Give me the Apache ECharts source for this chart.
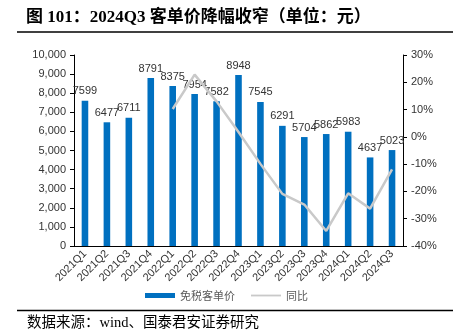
<!DOCTYPE html>
<html><head><meta charset="utf-8">
<script src="https://cdn.jsdelivr.net/npm/echarts@6/dist/echarts.min.js"></script>
<style>html,body{margin:0;padding:0;background:#fff}#c{width:453px;height:333px}</style>
</head><body><div id="c"></div>
<script>
const categories = ['2021Q1','2021Q2','2021Q3','2021Q4','2022Q1','2022Q2','2022Q3','2022Q4','2023Q1','2023Q2','2023Q3','2023Q4','2024Q1','2024Q2','2024Q3'];
const unitPrice = [7599,6477,6711,8791,8375,7954,7582,8948,7545,6291,5704,5862,5983,4637,5023];
const yoy = [null,null,null,null,10.2,22.8,13.0,1.8,-9.9,-20.9,-24.8,-34.5,-20.7,-26.3,-11.9];
const leftTicks = {min:0,max:10000,interval:1000};
const rightTicks = {min:-40,max:30,interval:10};
const titleText = '图 101：2024Q3 客单价降幅收窄（单位：元）';
const sourceText = '数据来源：wind、国泰君安证券研究';

const chart = echarts.init(document.getElementById('c'), null, {renderer:'canvas'});
const axisFont = {fontFamily:'Liberation Sans, Arial, sans-serif', fontSize:11, color:'#333'};
chart.setOption({
  animation:false,
  grid:{left:74,right:50,top:55,bottom:87},
  graphic:[
    {type:'text',left:26,top:9,style:{text:titleText,font:'bold 17px "Liberation Serif", "Noto Sans CJK SC", serif',fill:'#000'}},
    {type:'line',shape:{x1:17,y1:32,x2:453,y2:32},style:{stroke:'#000',lineWidth:1.6}},
    {type:'line',shape:{x1:17,y1:310.5,x2:453,y2:310.5},style:{stroke:'#000',lineWidth:1.6}},
    {type:'text',left:27,top:316,style:{text:sourceText,font:'14.5px "Liberation Serif", "Noto Sans CJK SC", serif',fill:'#000'}}
  ],
  legend:{
    bottom:27, left:'center', itemGap:16, itemWidth:30, itemHeight:5,
    textStyle:{fontSize:11,color:'#595959',fontFamily:'"Noto Sans CJK SC", sans-serif'},
    data:[{name:'免税客单价',icon:'rect'},
          {name:'同比',icon:'path://M0,0 L0,0 M0,1.6 L30,1.6 L30,3.4 L0,3.4 Z M30,5 L30,5',itemStyle:{color:'#C9C9C9'}}]
  },
  xAxis:{
    type:'category', data:categories,
    axisLine:{lineStyle:{color:'#000',width:1}},
    axisTick:{show:false},
    axisLabel:Object.assign({rotate:45,interval:0,margin:6},axisFont)
  },
  yAxis:[
    {type:'value',min:leftTicks.min,max:leftTicks.max,interval:leftTicks.interval,
     axisLine:{show:true,lineStyle:{color:'#000'}},axisTick:{show:true,length:4,lineStyle:{color:'#000'}},
     splitLine:{show:false},
     axisLabel:Object.assign({formatter:v=>v.toLocaleString('en-US'),margin:8},axisFont)},
    {type:'value',min:rightTicks.min,max:rightTicks.max,interval:rightTicks.interval,
     axisLine:{show:true,lineStyle:{color:'#000'}},axisTick:{show:true,length:4,lineStyle:{color:'#000'}},
     splitLine:{show:false},
     axisLabel:Object.assign({formatter:'{value}%',margin:8},axisFont)}
  ],
  series:[
    {name:'免税客单价',type:'bar',data:unitPrice,barWidth:'30%',
     itemStyle:{color:'#0070C0'},
     label:{show:true,position:'top',distance:4,fontSize:11,color:'#333',fontFamily:'Liberation Sans, Arial, sans-serif'}},
    {name:'同比',type:'line',yAxisIndex:1,data:yoy,symbol:'none',
     lineStyle:{color:'#C9C9C9',width:2.5},itemStyle:{color:'#C9C9C9'}}
  ]
});
</script></body></html>
